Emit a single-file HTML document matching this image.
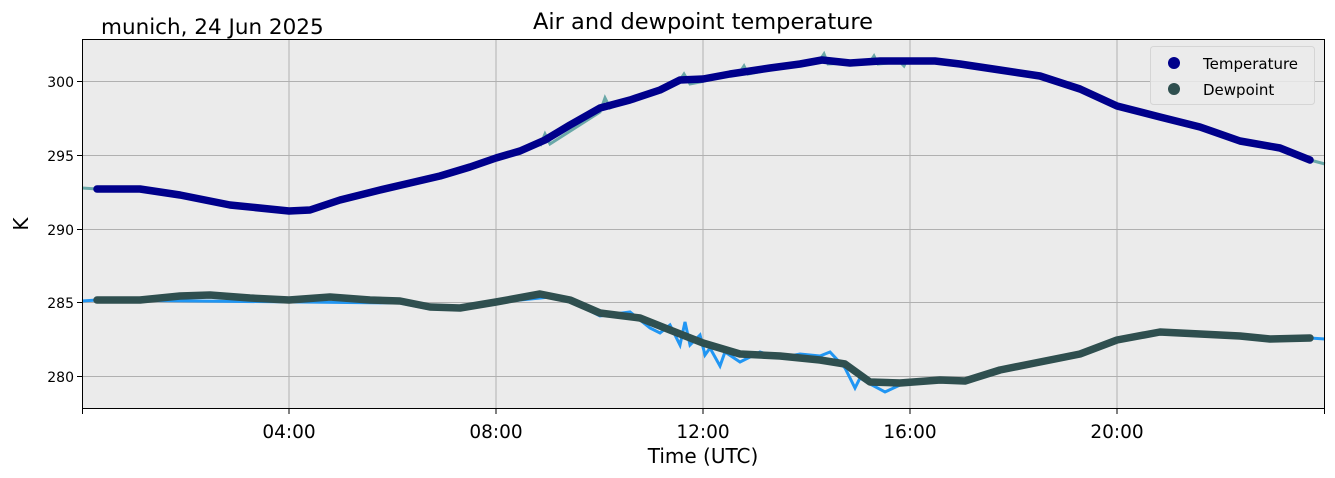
<!DOCTYPE html><html><head><meta charset="utf-8"><style>body{margin:0;background:#fff}svg{display:block;font-family:"DejaVu Sans","Liberation Sans",sans-serif}</style></head><body>
<svg width="1335" height="478" xmlns="http://www.w3.org/2000/svg">
<rect x="82.5" y="39.5" width="1242" height="369" fill="#ebebeb"/>
<g stroke="#b0b0b0" stroke-width="1">
<line x1="289" y1="39.5" x2="289" y2="408.5"/><line x1="496" y1="39.5" x2="496" y2="408.5"/><line x1="703" y1="39.5" x2="703" y2="408.5"/><line x1="910" y1="39.5" x2="910" y2="408.5"/><line x1="1117" y1="39.5" x2="1117" y2="408.5"/>
<line x1="82.5" y1="81.5" x2="1324.5" y2="81.5"/><line x1="82.5" y1="155.5" x2="1324.5" y2="155.5"/><line x1="82.5" y1="229.5" x2="1324.5" y2="229.5"/><line x1="82.5" y1="302.5" x2="1324.5" y2="302.5"/><line x1="82.5" y1="376.5" x2="1324.5" y2="376.5"/>
</g>
<polyline fill="none" stroke="#6aa8a8" stroke-width="3" points="82,188 97,189"/>
<polyline fill="none" stroke="#6aa8a8" stroke-width="3" points="1310,160 1325,164"/>
<polyline fill="none" stroke="#6aa8a8" stroke-width="3" points="540,146 545,134 550,144 600,112 605,98 610,108 680,80 684,74 690,84 700,82 740,72 744,66 748,74 820,60 824,54 828,64 870,62 874,56 878,64 900,62 904,66 908,58"/>
<polyline fill="none" stroke="#2196f3" stroke-width="3" points="82,301 97,300 400,303 430,309 560,296 600,316 630,312 640,320 650,328 660,333 670,325 680,345 685,322 690,345 700,335 705,355 710,348 720,366 725,352 740,362 760,352 780,358 800,354 820,356 830,352 845,368 855,388 860,378 870,384 885,392 900,385 940,380 965,381 1000,370 1040,362 1080,354 1117,340 1160,332 1200,334 1240,336 1270,339 1310,338 1325,339"/>
<polyline fill="none" stroke="#00008b" stroke-width="7.5" stroke-linejoin="round" stroke-linecap="round" points="97,189 140,189 180,195 230,205 289,211 310,210 340,200 380,190 410,183 440,176 470,167 496,158 520,151 545,140 570,125 600,108 630,100 660,90 680,80 703,79 730,74 770,68 800,64 822,60 850,63 880,61 910,61 935,61 960,64 1000,70 1040,76 1080,89 1117,106 1160,117 1200,127 1240,141 1280,148 1310,160"/>
<polyline fill="none" stroke="#2f4f4f" stroke-width="7.5" stroke-linejoin="round" stroke-linecap="round" points="97,300 140,300 180,296 210,295 250,298 289,300 330,297 370,300 400,301 430,307 460,308 496,302 540,294 570,300 600,313 640,318 670,330 703,343 740,354 780,356 820,360 845,364 870,382 900,383 940,380 965,381 1000,370 1040,362 1080,354 1117,340 1160,332 1200,334 1240,336 1270,339 1310,338"/>
<rect x="82.5" y="39.5" width="1242" height="369" fill="none" stroke="#000" stroke-width="1"/>
<g stroke="#000"><line x1="82.5" y1="409" x2="82.5" y2="414"/><line x1="289" y1="409" x2="289" y2="414"/><line x1="496" y1="409" x2="496" y2="414"/><line x1="703" y1="409" x2="703" y2="414"/><line x1="910" y1="409" x2="910" y2="414"/><line x1="1117" y1="409" x2="1117" y2="414"/><line x1="1324.5" y1="409" x2="1324.5" y2="414"/>
<line x1="77" y1="81.5" x2="82" y2="81.5"/><line x1="77" y1="155.5" x2="82" y2="155.5"/><line x1="77" y1="229.5" x2="82" y2="229.5"/><line x1="77" y1="302.5" x2="82" y2="302.5"/><line x1="77" y1="376.5" x2="82" y2="376.5"/></g>
<g font-size="14" text-anchor="end" fill="#000"><text x="74" y="87">300</text><text x="74" y="161">295</text><text x="74" y="235">290</text><text x="74" y="308">285</text><text x="74" y="382">280</text></g>
<g font-size="18.5" text-anchor="middle" fill="#000"><text x="289" y="438">04:00</text><text x="496" y="438">08:00</text><text x="703" y="438">12:00</text><text x="910" y="438">16:00</text><text x="1117" y="438">20:00</text>
<text x="703" y="463" font-size="20">Time (UTC)</text><text x="703" y="29" font-size="22.5">Air and dewpoint temperature</text></g>
<text x="101" y="34" font-size="21.5">munich, 24 Jun 2025</text>
<text transform="translate(28,224) rotate(-90)" font-size="20" text-anchor="middle">K</text>
<rect x="1150.5" y="46.5" width="164" height="58" rx="3" fill="#ebebeb" fill-opacity="0.85" stroke="#d5d5d5"/>
<circle cx="1174" cy="63" r="6" fill="#00008b"/><circle cx="1174" cy="89" r="6" fill="#2f4f4f"/>
<text x="1203" y="69" font-size="15">Temperature</text><text x="1203" y="95" font-size="15">Dewpoint</text>
</svg></body></html>
